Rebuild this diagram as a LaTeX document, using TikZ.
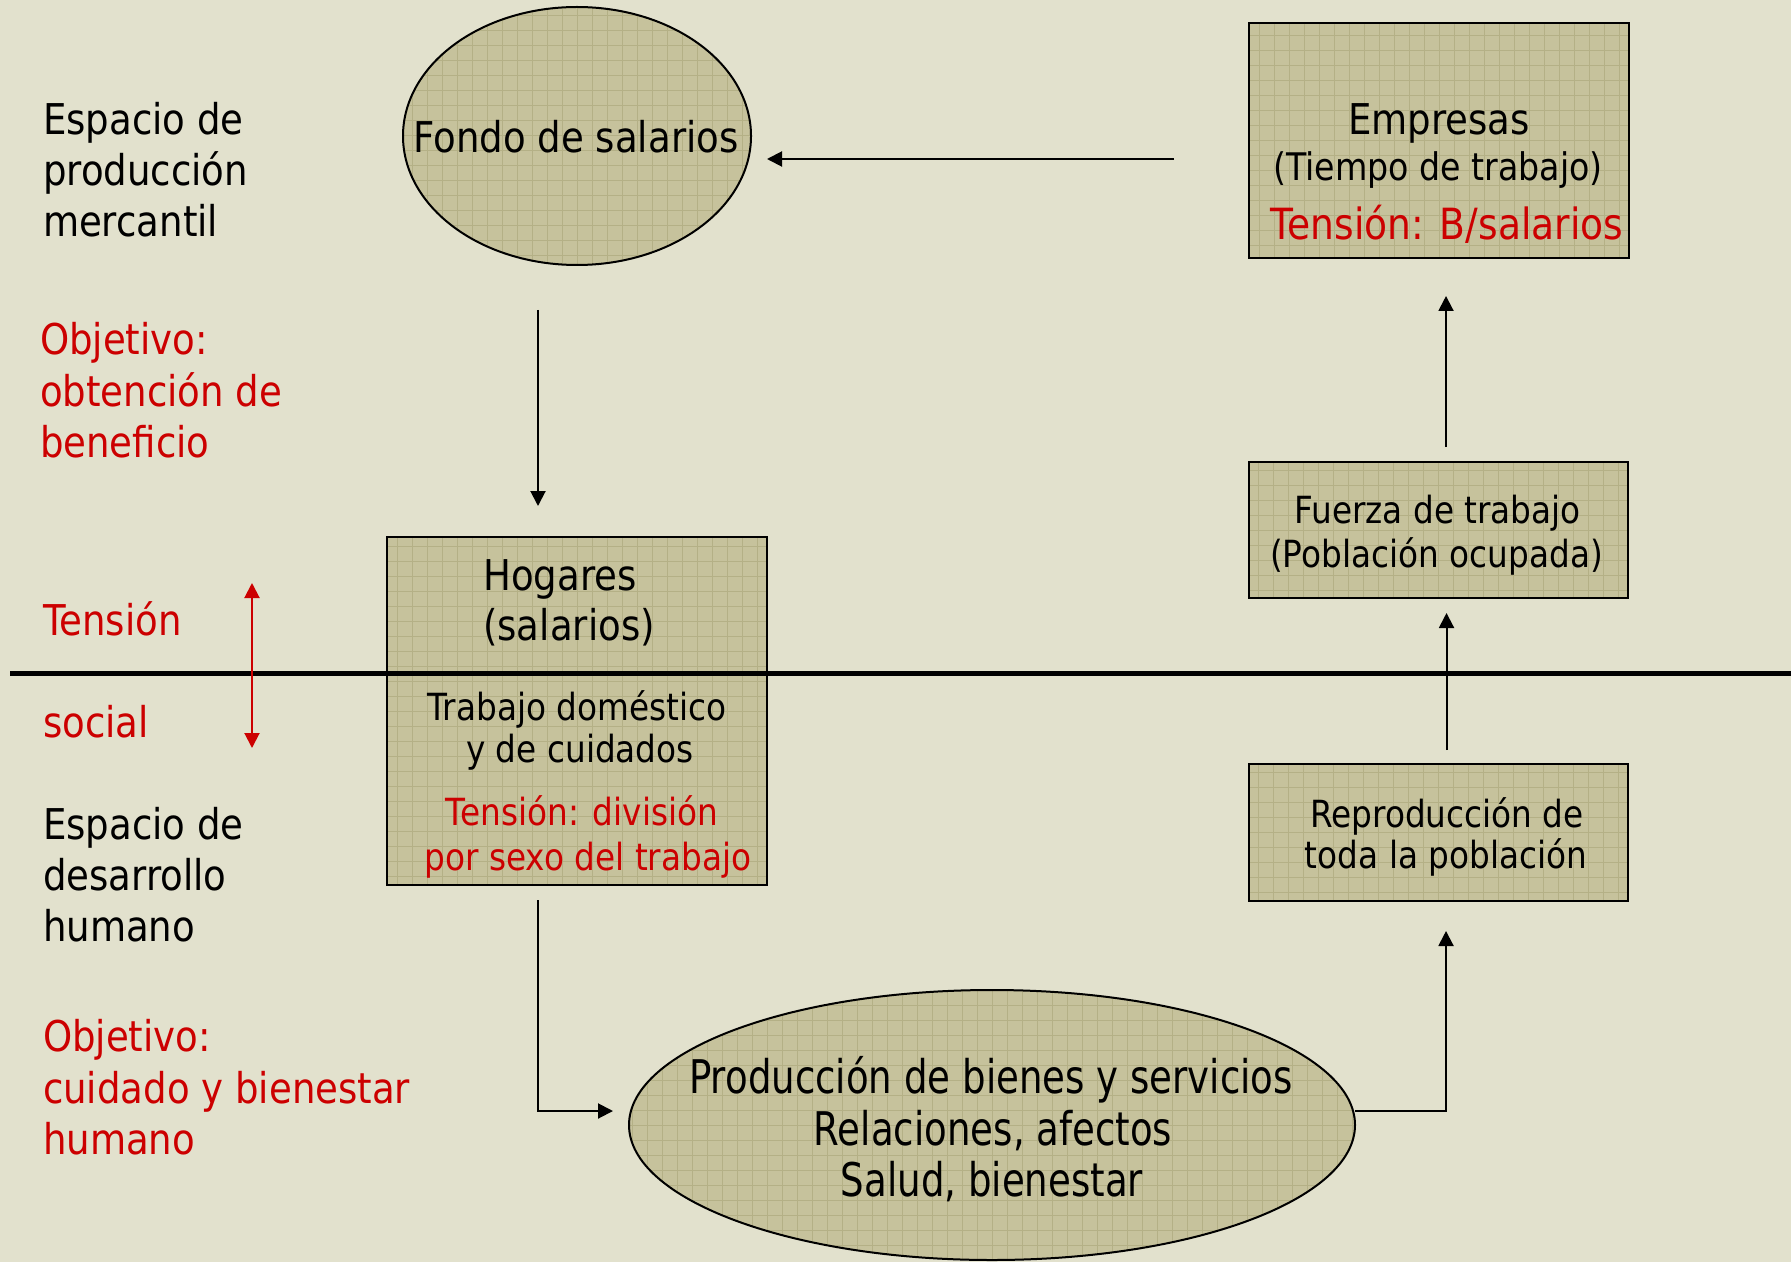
\documentclass[tikz,border=0pt]{standalone}
\usepackage{fontspec}
\setmainfont{DejaVu Sans}[FakeStretch=0.875]
\newfontfamily\condfam{DejaVu Sans}[FakeStretch=0.8]
\usetikzlibrary{arrows.meta,shapes.geometric,calc}
\definecolor{bgc}{RGB}{226,225,205}
\definecolor{shapec}{RGB}{198,194,156}
\definecolor{gridc}{RGB}{180,176,134}
\definecolor{redc}{RGB}{204,0,0}
\newcommand{\myBig}{\fontsize{21.2}{25.5}\selectfont}
\newcommand{\myMid}{\fontsize{19}{22}\selectfont}
\newcommand{\mySmall}{\fontsize{18.7}{22}\selectfont}
\newcommand{\myCond}{\condfam\fontsize{23.2}{27}\selectfont}
\begin{document}
\begin{tikzpicture}[x=0.5pt,y=-0.5pt,
  gridfill/.style={fill=shapec, draw=black, line width=1pt, inner sep=0pt, outer sep=0pt,
    path picture={\draw[gridc, line width=0.5pt] (path picture bounding box.south west) grid[step=7.5pt] (path picture bounding box.north east);}},
  boxsty/.style={gridfill, rectangle},
  ellsty/.style={gridfill, ellipse},
  txt/.style={inner sep=0pt, outer sep=0pt, anchor=base, text=black},
  ltxt/.style={inner sep=0pt, outer sep=0pt, anchor=base west, text=black, font=\myBig},
  rtxt/.style={ltxt, text=redc},
  conn/.style={draw=black, line width=1pt, -{Triangle[length=7.5pt,width=7.5pt]}},
  redarrow/.style={draw=redc, line width=1pt, {Triangle[length=7.5pt,width=7.5pt]}-{Triangle[length=7.5pt,width=7.5pt]}},
  divline/.style={draw=black, line width=2.5pt}
]
\fill[bgc] (0,0) rectangle (1791,1262);
\useasboundingbox (0,0) rectangle (1791,1262);

% shapes
\node[ellsty, minimum width=174pt, minimum height=129pt] (fondo) at (577,136) {};
\node[boxsty, minimum width=190pt, minimum height=117.5pt] (emp) at (1439,140.5) {};
\node[boxsty, minimum width=189.5pt, minimum height=68pt] (fuer) at (1438.5,530) {};
\node[boxsty, minimum width=189.5pt, minimum height=68.5pt] (repr) at (1438.5,832.5) {};
\node[boxsty, minimum width=190pt, minimum height=174pt] (hog) at (577,711) {};
\node[ellsty, minimum width=363pt, minimum height=135pt] (prod) at (992,1125) {};

% dividing line
\coordinate (hl1) at (10,673);
\coordinate (hl2) at (1791,673);
\draw[divline] (hl1) -- (hl2);

% red tension arrow
\coordinate (ta) at (252,583);
\coordinate (tb) at (252,748);
\draw[redarrow] (ta) -- (tb);

% connectors
\draw[conn, shorten <=37.5pt, shorten >=8pt] ([yshift=-9.25pt]emp.west) -- ([yshift=-11.5pt]fondo.east);
\draw[conn, shorten <=22.5pt, shorten >=15.5pt] ([xshift=-19.5pt]fondo.south) -- ([xshift=-19.5pt]hog.north);
\draw[conn, shorten <=7.5pt, shorten >=8pt] ([xshift=-19.5pt]hog.south) |- ([yshift=7pt]prod.west);
\draw[conn, shorten >=15pt] ([yshift=7pt]prod.east) -| ([xshift=3.75pt]repr.south);
\draw[conn, shorten <=7pt, shorten >=7.5pt] ([xshift=4pt]repr.north) -- ([xshift=4pt]fuer.south);
\draw[conn, shorten <=7.5pt, shorten >=19pt] ([xshift=3.75pt]fuer.north) -- ([xshift=3.5pt]emp.south);

% texts in shapes
\node[txt, font=\myBig] (tfondo) at (576,153) {Fondo de salarios};
\node[txt, font=\myBig] (temp1) at (1439,135) {Empresas};
\node[txt, font=\myMid] (temp2) at (1438,181) {(Tiempo de trabajo)};
\node[txt, font=\fontsize{21.5}{25}\selectfont, text=redc] (temp3) at (1447,240) {Tensión: B/salarios};
\node[txt, font=\myBig] (thog1) at (560,590) {Hogares};
\node[txt, font=\myBig] (thog2) at (569,640) {(salarios)};
\node[txt, font=\mySmall] (thog3) at (577,720) {Trabajo doméstico};
\node[txt, font=\mySmall] (thog4) at (580,762) {y de cuidados};
\node[txt, font=\mySmall, text=redc] (thog5) at (582,825) {Tensión: división};
\node[txt, font=\mySmall, text=redc] (thog6) at (588,870) {por sexo del trabajo};
\node[txt, font=\mySmall] (tfuer1) at (1437.5,523) {Fuerza de trabajo};
\node[txt, font=\mySmall] (tfuer2) at (1436.5,567) {(Población ocupada)};
\node[txt, font=\mySmall] (trepr1) at (1447,827) {Reproducción de};
\node[txt, font=\mySmall] (trepr2) at (1446,868) {toda la población};
\node[txt, font=\myCond] (tprod1) at (991,1093) {Producción de bienes y servicios};
\node[txt, font=\myCond] (tprod2) at (993,1145) {Relaciones, afectos};
\node[txt, font=\myCond] (tprod3) at (992,1196) {Salud, bienestar};

% left labels
\node[ltxt] (l1a) at (43,135) {Espacio de};
\node[ltxt] (l1b) at (43,186) {producción};
\node[ltxt] (l1c) at (43,237) {mercantil};
\node[rtxt] (l2a) at (40,354) {Objetivo:};
\node[rtxt] (l2b) at (40,406) {obtención de};
\node[rtxt] (l2c) at (40,457) {beneficio};
\node[rtxt] (l3a) at (43,635) {Tensión};
\node[rtxt] (l3b) at (43,737) {social};
\node[ltxt] (l4a) at (43,839) {Espacio de};
\node[ltxt] (l4b) at (43,890) {desarrollo};
\node[ltxt] (l4c) at (43,941) {humano};
\node[rtxt] (l5a) at (43,1051) {Objetivo:};
\node[rtxt] (l5b) at (43,1103) {cuidado y bienestar};
\node[rtxt] (l5c) at (43,1154) {humano};
\end{tikzpicture}
\end{document}
